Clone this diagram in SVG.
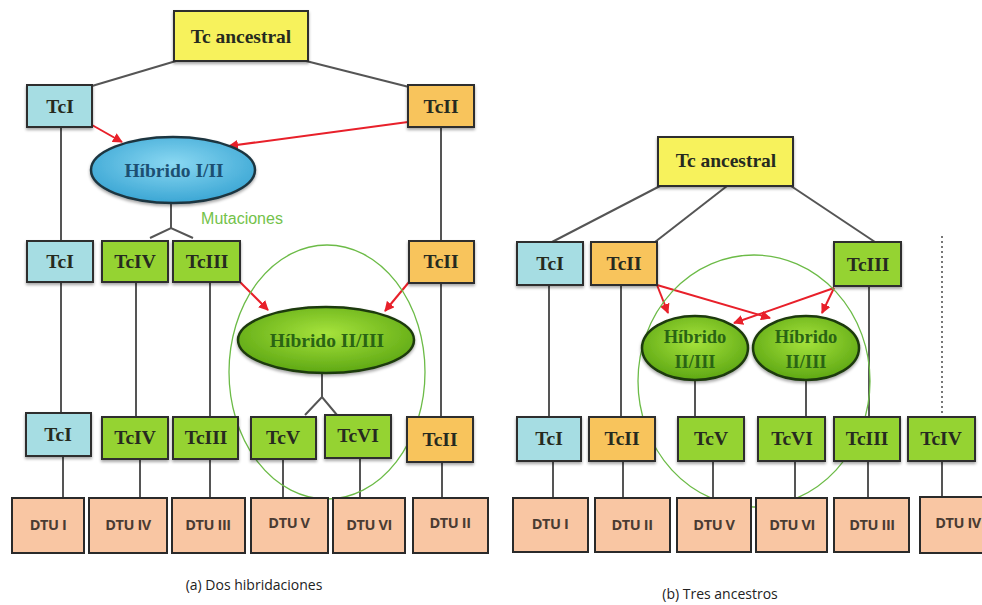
<svg xmlns="http://www.w3.org/2000/svg" width="982" height="605" viewBox="0 0 982 605">
<style>
.box{stroke:#2e2e2e;stroke-width:2;filter:url(#sh)}
.blue{fill:#a6dde3}
.orange{fill:#f8c45c}
.green{fill:#95d331}
.yellow{fill:#f7f25c}
.dtu{fill:#f9c6a3;stroke:#2a2a2a;stroke-width:2}
.tc{font-family:"Liberation Serif","DejaVu Serif",serif;font-size:19.5px;font-weight:bold;fill:#262a20;text-anchor:middle}
.dt{font-family:"Open Sans","Liberation Sans",sans-serif;font-size:14.5px;font-weight:700;fill:#4a3b32;text-anchor:middle;letter-spacing:-0.4px}
.cap{font-family:"Open Sans","Liberation Sans",sans-serif;font-size:14px;fill:#222;text-anchor:middle}
.ln{stroke:#555;stroke-width:2;fill:none}
.red{stroke:#e8202a;stroke-width:2;fill:none;marker-end:url(#ah)}
.gc{fill:none;stroke:#6cbb47;stroke-width:1.3}
.h2{font-size:18.5px;fill:#2a6414}
</style>
<defs>
<filter id="sh" x="-20%" y="-20%" width="140%" height="150%">
<feDropShadow dx="0" dy="2" stdDeviation="1.5" flood-color="#000" flood-opacity="0.35"/>
</filter>
<marker id="ah" viewBox="0 0 10 10" refX="9" refY="5" markerWidth="5" markerHeight="5" orient="auto">
<path d="M0,0 L10,5 L0,10 z" fill="#e8202a"/>
</marker>
<radialGradient id="gb" cx="50%" cy="40%" r="60%">
<stop offset="0" stop-color="#8ad8f2"/>
<stop offset="1" stop-color="#3ba6d4"/>
</radialGradient>
<radialGradient id="gg" cx="50%" cy="40%" r="60%">
<stop offset="0" stop-color="#a6e33c"/>
<stop offset="1" stop-color="#5ea814"/>
</radialGradient>
</defs>

<g id="connectors">
<!-- left panel -->
<line class="ln" x1="176" y1="61" x2="92" y2="86"/>
<line class="ln" x1="306" y1="61" x2="409" y2="87"/>
<line class="ln" x1="61" y1="127" x2="61" y2="242"/>
<line class="ln" x1="441" y1="127" x2="441" y2="242"/>
<line class="ln" x1="171" y1="204" x2="171" y2="228"/>
<polyline class="ln" points="150,238 171,228 193,238"/>
<line class="ln" x1="61" y1="282" x2="61" y2="414"/>
<line class="ln" x1="136" y1="282" x2="136" y2="418"/>
<line class="ln" x1="210" y1="282" x2="210" y2="418"/>
<line class="ln" x1="441" y1="283" x2="441" y2="418"/>
<line class="ln" x1="322" y1="374" x2="322" y2="397"/>
<polyline class="ln" points="305,415 322,397 337,415"/>
<line class="ln" x1="63" y1="456" x2="63" y2="498"/>
<line class="ln" x1="140" y1="459" x2="140" y2="498"/>
<line class="ln" x1="210" y1="459" x2="210" y2="498"/>
<line class="ln" x1="283" y1="459" x2="283" y2="498"/>
<line class="ln" x1="360" y1="458" x2="360" y2="498"/>
<line class="ln" x1="442" y1="462" x2="442" y2="498"/>
<line class="red" x1="92" y1="125" x2="122" y2="142"/>
<line class="red" x1="408" y1="122" x2="229" y2="146"/>
<line class="red" x1="240" y1="282" x2="268" y2="310"/>
<line class="red" x1="409" y1="282" x2="385" y2="311"/>
<!-- right panel -->
<line class="ln" x1="660" y1="186" x2="552" y2="242"/>
<line class="ln" x1="727" y1="186" x2="655" y2="242"/>
<line class="ln" x1="791" y1="186" x2="875" y2="242"/>
<line x1="942" y1="236" x2="942" y2="415" stroke="#777" stroke-width="2" stroke-dasharray="2,3"/>
<line class="ln" x1="549" y1="285" x2="549" y2="417"/>
<line class="ln" x1="621" y1="285" x2="621" y2="417"/>
<line class="ln" x1="869" y1="286" x2="869" y2="417"/>
<line class="ln" x1="695" y1="380" x2="695" y2="417"/>
<line class="ln" x1="806" y1="380" x2="806" y2="417"/>
<line class="ln" x1="553" y1="461" x2="553" y2="498"/>
<line class="ln" x1="623" y1="461" x2="623" y2="498"/>
<line class="ln" x1="713" y1="461" x2="713" y2="498"/>
<line class="ln" x1="795" y1="461" x2="795" y2="498"/>
<line class="ln" x1="868" y1="461" x2="868" y2="498"/>
<line class="ln" x1="942" y1="461" x2="942" y2="497"/>
<line class="red" x1="657" y1="285" x2="668" y2="313"/>
<line class="red" x1="657" y1="285" x2="770" y2="318"/>
<line class="red" x1="834" y1="288" x2="734" y2="323"/>
<line class="red" x1="834" y1="288" x2="822" y2="313"/>
</g>

<!-- left panel nodes -->
<g id="a-ancestral"><rect class="box yellow" x="174" y="11" width="134" height="50" stroke-width="2.5"/><text class="tc" x="241" y="43">Tc ancestral</text></g>
<g id="a-tcI-1"><rect class="box blue" x="27" y="85" width="65" height="42"/><text class="tc" x="60" y="113">TcI</text></g>
<g id="a-tcII-1"><rect class="box orange" x="408" y="85" width="66" height="42"/><text class="tc" x="441" y="113">TcII</text></g>
<g id="a-hib12"><ellipse cx="173" cy="170" rx="82" ry="33" fill="url(#gb)" stroke="#1f3640" stroke-width="2.5" filter="url(#sh)"/><text class="tc" x="174" y="177" style="fill:#1c4f72">Híbrido I/II</text></g>
<g id="a-mut"><text x="242" y="224" font-family="Liberation Sans, Arial, sans-serif" font-size="16" fill="#73c24a" text-anchor="middle">Mutaciones</text></g>
<g id="a-tcI-2"><rect class="box blue" x="27" y="241" width="66" height="41"/><text class="tc" x="60" y="268">TcI</text></g>
<g id="a-tcIV-2"><rect class="box green" x="102" y="241" width="66" height="41"/><text class="tc" x="135" y="268">TcIV</text></g>
<g id="a-tcIII-2"><rect class="box green" x="173" y="241" width="67" height="41"/><text class="tc" x="207" y="268">TcIII</text></g>
<g id="a-tcII-2"><rect class="box orange" x="409" y="241" width="65" height="42"/><text class="tc" x="441" y="268">TcII</text></g>
<g id="a-hib23"><ellipse cx="326" cy="340" rx="88" ry="33" fill="url(#gg)" stroke="#1f3a10" stroke-width="2.5" filter="url(#sh)"/><text class="tc" x="327" y="347" style="fill:#2a6414">Híbrido II/III</text></g>
<g id="a-circle"><ellipse class="gc" cx="327" cy="372" rx="98" ry="127"/></g>
<g id="a-tcI-3"><rect class="box blue" x="26" y="413" width="65" height="43"/><text class="tc" x="58" y="441">TcI</text></g>
<g id="a-tcIV-3"><rect class="box green" x="102" y="417" width="66" height="42"/><text class="tc" x="135" y="444">TcIV</text></g>
<g id="a-tcIII-3"><rect class="box green" x="173" y="417" width="65" height="42"/><text class="tc" x="206" y="444">TcIII</text></g>
<g id="a-tcV-3"><rect class="box green" x="251" y="417" width="65" height="42"/><text class="tc" x="283" y="444">TcV</text></g>
<g id="a-tcVI-3"><rect class="box green" x="325" y="415" width="66" height="43"/><text class="tc" x="358" y="442">TcVI</text></g>
<g id="a-tcII-3"><rect class="box orange" x="407" y="417" width="66" height="45"/><text class="tc" x="440" y="446">TcII</text></g>
<g id="a-dtuI"><rect class="dtu" x="12" y="498" width="72" height="55"/><text class="dt" x="48" y="530">DTU I</text></g>
<g id="a-dtuIV"><rect class="dtu" x="89" y="498" width="78" height="55"/><text class="dt" x="128" y="530">DTU IV</text></g>
<g id="a-dtuIII"><rect class="dtu" x="172" y="498" width="73" height="55"/><text class="dt" x="208" y="530">DTU III</text></g>
<g id="a-dtuV"><rect class="dtu" x="251" y="498" width="77" height="55"/><text class="dt" x="289" y="528">DTU V</text></g>
<g id="a-dtuVI"><rect class="dtu" x="333" y="498" width="72" height="55"/><text class="dt" x="369" y="530">DTU VI</text></g>
<g id="a-dtuII"><rect class="dtu" x="413" y="498" width="75" height="55"/><text class="dt" x="450" y="528">DTU II</text></g>
<text class="cap" x="254" y="590">(a) Dos hibridaciones</text>

<!-- right panel nodes -->
<g id="b-ancestral"><rect class="box yellow" x="658" y="137" width="135" height="49" stroke-width="2.5"/><text class="tc" x="726" y="167">Tc ancestral</text></g>
<g id="b-tcI-1"><rect class="box blue" x="517" y="242" width="66" height="43"/><text class="tc" x="550" y="270">TcI</text></g>
<g id="b-tcII-1"><rect class="box orange" x="591" y="242" width="66" height="43"/><text class="tc" x="624" y="270">TcII</text></g>
<g id="b-tcIII-1"><rect class="box green" x="834" y="242" width="67" height="44"/><text class="tc" x="868" y="271">TcIII</text></g>
<g id="b-circle"><ellipse class="gc" cx="754" cy="381" rx="116" ry="126"/></g>
<g id="b-hib1"><ellipse cx="695" cy="348" rx="53" ry="32" fill="url(#gg)" stroke="#1f3a10" stroke-width="2.5" filter="url(#sh)"/><text class="tc h2" x="695" y="343">Híbrido</text><text class="tc h2" x="695" y="368">II/III</text></g>
<g id="b-hib2"><ellipse cx="806" cy="348" rx="53" ry="32" fill="url(#gg)" stroke="#1f3a10" stroke-width="2.5" filter="url(#sh)"/><text class="tc h2" x="806" y="343">Híbrido</text><text class="tc h2" x="806" y="368">II/III</text></g>
<g id="b-tcI-2"><rect class="box blue" x="517" y="417" width="64" height="44"/><text class="tc" x="549" y="445">TcI</text></g>
<g id="b-tcII-2"><rect class="box orange" x="589" y="417" width="66" height="44"/><text class="tc" x="622" y="445">TcII</text></g>
<g id="b-tcV-2"><rect class="box green" x="678" y="417" width="66" height="44"/><text class="tc" x="711" y="445">TcV</text></g>
<g id="b-tcVI-2"><rect class="box green" x="758" y="417" width="67" height="44"/><text class="tc" x="792" y="445">TcVI</text></g>
<g id="b-tcIII-2"><rect class="box green" x="834" y="417" width="66" height="44"/><text class="tc" x="867" y="445">TcIII</text></g>
<g id="b-tcIV-2"><rect class="box green" x="908" y="417" width="67" height="44"/><text class="tc" x="941" y="445">TcIV</text></g>
<g id="b-dtuI"><rect class="dtu" x="513" y="498" width="75" height="54"/><text class="dt" x="550" y="529">DTU I</text></g>
<g id="b-dtuII"><rect class="dtu" x="595" y="498" width="75" height="54"/><text class="dt" x="632" y="530">DTU II</text></g>
<g id="b-dtuV"><rect class="dtu" x="677" y="498" width="74" height="54"/><text class="dt" x="714" y="530">DTU V</text></g>
<g id="b-dtuVI"><rect class="dtu" x="756" y="498" width="71" height="54"/><text class="dt" x="792" y="530">DTU VI</text></g>
<g id="b-dtuIII"><rect class="dtu" x="834" y="498" width="75" height="54"/><text class="dt" x="872" y="530">DTU III</text></g>
<g id="b-dtuIV"><rect class="dtu" x="920" y="497" width="70" height="56"/><text class="dt" x="958" y="528">DTU IV</text></g>
<text class="cap" x="720" y="599">(b) Tres ancestros</text>
</svg>
